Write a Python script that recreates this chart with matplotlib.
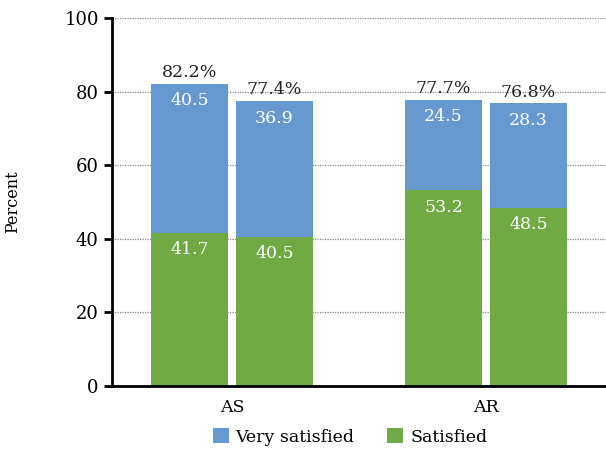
import matplotlib
matplotlib.use("Agg")
import matplotlib.pyplot as plt
import numpy as np

groups = ["AS", "AR"]
satisfied = [41.7, 40.5, 53.2, 48.5]
very_satisfied = [40.5, 36.9, 24.5, 28.3]
totals = ["82.2%", "77.4%", "77.7%", "76.8%"]
yticks = [0, 20, 40, 60, 80, 100]

blue = "#6699d0"
green = "#70aa45"

plt.rcParams['font.family'] = ['DejaVu Serif']

fig = plt.figure(figsize=(6.06, 4.51), dpi=100)
ax = fig.add_axes([112/606, 1-386/451, (606-112)/606, (386-18)/451])

off = 0.1673
w = 0.303
xs = []
for gi in range(len(groups)):
    xs += [gi - off, gi + off]
xs = np.array(xs)

ax.bar(xs, satisfied, width=w, color=green, label="Satisfied", zorder=3)
ax.bar(xs, very_satisfied, width=w, bottom=satisfied, color=blue, label="Very satisfied", zorder=3)

for x, s, v, t in zip(xs, satisfied, very_satisfied, totals):
    ax.annotate(f"{s}", (x, s), xytext=(0, -6), textcoords="offset points",
                ha="center", va="top", color="white", fontsize=12.5, zorder=4)
    ax.annotate(f"{v}", (x, s + v), xytext=(0, -6), textcoords="offset points",
                ha="center", va="top", color="white", fontsize=12.5, zorder=4)
    ax.annotate(t, (x, s + v), xytext=(0, 2), textcoords="offset points",
                ha="center", va="bottom", color="#222222", fontsize=12.5, zorder=4)

ax.set_xlim(-0.472, 1.472)
ax.set_ylim(0, 100)
ax.set_yticks(yticks)
ax.set_xticks(range(len(groups)))
ax.set_xticklabels(groups)
ax.tick_params(axis="x", length=0, labelsize=12.5, pad=9)
ax.tick_params(axis="y", length=6, width=2, labelsize=13, direction="out")
ax.set_ylabel("Percent", fontsize=11.5)
ax.yaxis.set_label_coords(-0.185, 0.5)

for s in ["top", "right"]:
    ax.spines[s].set_visible(False)
ax.spines["left"].set_linewidth(2)
ax.spines["bottom"].set_linewidth(2)
ax.spines["left"].set_zorder(5)
ax.spines["bottom"].set_zorder(5)

ax.yaxis.grid(True, linestyle=(0, (1, 1)), color="#888888", linewidth=0.9, zorder=0)
ax.set_axisbelow(True)

h, l = ax.get_legend_handles_labels()
fig.legend([h[1], h[0]], [l[1], l[0]], loc="center", bbox_to_anchor=(350/606, 1-437/451),
           ncol=2, frameon=False, fontsize=12.5, handlelength=0.9, handleheight=0.9,
           columnspacing=1.9, handletextpad=0.4)

fig.savefig("out.png", dpi=100)
